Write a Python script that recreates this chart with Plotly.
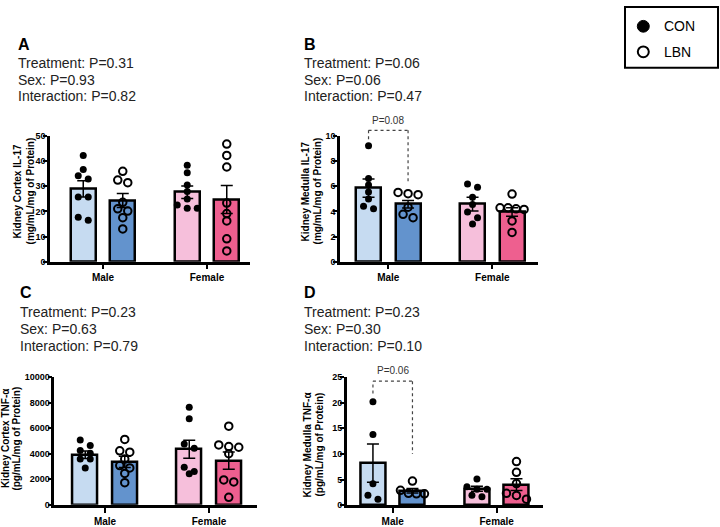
import plotly.graph_objects as go

W, H = 720, 527
FONT = "Arial, Liberation Sans, sans-serif"

# ---------------- data ----------------
categories = ["Male", "Female"]
groups = ["CON", "LBN"]
bar_colors = ["#c6dbf1", "#6393cd", "#f6bfdb", "#ee5f8f"]

# Panel A: Kidney Cortex IL-17
a_male_con = [42.2, 36.6, 34.1, 32.8, 25.7, 25.7, 17.7, 16.5]
a_male_lbn = [35.9, 32.4, 31.4, 23.6, 21.0, 20.1, 17.5, 13.0]
a_fem_con = [38.3, 35.3, 30.5, 27.9, 24.9, 22.5, 21.2, 21.2]
a_fem_lbn = [46.7, 42.2, 37.6, 23.3, 19.1, 16.2, 9.1, 4.3]
a_mean = [28.9, 24.3, 27.6, 24.7]
a_sem = [3.2, 2.8, 2.5, 5.6]

# Panel B: Kidney Medulla IL-17
b_male_con = [9.21, 6.61, 6.10, 5.53, 4.98, 4.41, 4.20]
b_male_lbn = [5.50, 5.40, 5.32, 4.33, 3.76, 3.50]
b_fem_con = [6.18, 5.92, 5.11, 4.54, 3.95, 3.50, 2.99]
b_fem_lbn = [5.37, 4.28, 4.28, 4.20, 4.15, 3.24, 2.33]
b_mean = [5.84, 4.57, 4.57, 3.95]
b_sem = [0.73, 0.30, 0.54, 0.33]

# Panel C: Kidney Cortex TNF-a
c_male_con = [5077, 4638, 4254, 4046, 3585, 3585, 2892]
c_male_lbn = [5123, 4231, 4123, 3585, 3077, 2892, 2462, 1738]
c_fem_con = [7638, 6738, 4769, 4431, 2946, 2615, 2431]
c_fem_lbn = [6154, 4692, 4562, 4508, 4000, 1946, 1792, 585]
c_mean = [3923, 3354, 4354, 3462]
c_sem = [300, 440, 710, 670]

# Panel D: Kidney Medulla TNF-a
d_male_con = [20.2, 13.8, 4.15, 1.92, 1.15]
d_male_lbn = [4.7, 2.9, 2.3, 2.2, 2.2]
d_fem_con = [5.12, 3.58, 3.08, 3.08, 1.92, 1.65]
d_fem_lbn = [8.5, 6.4, 4.2, 2.3, 1.9, 1.15]
d_mean = [8.2, 2.8, 3.2, 4.0]
d_sem = [3.75, 0.45, 0.5, 1.15]

panel_letters = ["A", "B", "C", "D"]
stats_text = [
    ["Treatment: P=0.31", "Sex: P=0.93", "Interaction: P=0.82"],
    ["Treatment: P=0.06", "Sex: P=0.06", "Interaction: P=0.47"],
    ["Treatment: P=0.23", "Sex: P=0.63", "Interaction: P=0.79"],
    ["Treatment: P=0.23", "Sex: P=0.30", "Interaction: P=0.10"],
]
y_titles = [
    ["Kidney Cortex IL-17", "(mg/mL/mg of Protein)"],
    ["Kidney Medulla IL-17", "(mg/mL/mg of Protein)"],
    ["Kidney Cortex TNF-α", "(pg/mL/mg of Protein)"],
    ["Kidney Medulla TNF-α", "(pg/mL/mg of Protein)"],
]
y_max = [50, 10, 10000, 25]
y_dtick = [10, 2, 2000, 5]
bracket_text = [None, "P=0.08", None, "P=0.06"]
# bracket levels in data units: (left bottom, top, right bottom, text)
bracket_levels = [None, (9.73, 10.43, 6.36, 11.2), None, (21.8, 24.2, 10.0, 26.2)]

points = [
    [a_male_con, a_male_lbn, a_fem_con, a_fem_lbn],
    [b_male_con, b_male_lbn, b_fem_con, b_fem_lbn],
    [c_male_con, c_male_lbn, c_fem_con, c_fem_lbn],
    [d_male_con, d_male_lbn, d_fem_con, d_fem_lbn],
]
means = [a_mean, b_mean, c_mean, d_mean]
sems = [a_sem, b_sem, c_sem, d_sem]

# ---------------- layout geometry (pixels) ----------------
PX_PER_CAT = 104.0
geo = [
    dict(x0=50, x1=250, male=103, y0=133.3, y1=261.7, letter=(16, 40), lines=(59.3, 76.7, 92.7), ytit=(17, 30, 190)),
    dict(x0=340, x1=538, male=388.3, y0=133.3, y1=261.7, letter=(302, 40), lines=(59.3, 76.7, 92.7), ytit=(305, 317, 190)),
    dict(x0=54.3, x1=257, male=105, y0=379.3, y1=509.5, letter=(18, 293.3), lines=(312.7, 330, 347.3), ytit=(5.5, 17, 442)),
    dict(x0=346.7, x1=542.7, male=392.7, y0=379.3, y1=509.8, letter=(302, 293.3), lines=(312.7, 330, 347.3), ytit=(307, 319, 448)),
]
OFF = 0.19
BW = 0.24


def swarm(vals, center, ppu_y, ppu_x, thr=6.1, spacing=10.0):
    order = sorted(range(len(vals)), key=lambda i: -vals[i])
    rows = []
    for i in order:
        if rows and (vals[rows[-1][0]] - vals[i]) * ppu_y <= thr:
            rows[-1].append(i)
        else:
            rows.append([i])
    xs = [None] * len(vals)
    for r in rows:
        n = len(r)
        sp = spacing if n <= 3 else spacing * 0.8
        for k, i in enumerate(r):
            xs[i] = center + (k - (n - 1) / 2) * sp / ppu_x
    return xs


fig = go.Figure()
annotations = []
shapes = []
layout_axes = {}

for p in range(4):
    g = geo[p]
    sfx = "" if p == 0 else str(p + 1)
    xa, ya = "x" + sfx, "y" + sfx
    xr0 = 1 - (g["male"] - g["x0"]) / PX_PER_CAT
    xr1 = xr0 + (g["x1"] - g["x0"]) / PX_PER_CAT
    ppu_y = (g["y1"] - g["y0"]) / y_max[p]
    ppu_x = PX_PER_CAT

    centers = []
    for ci in range(len(categories)):
        for gi in range(len(groups)):
            centers.append(ci + 1 + (-OFF if gi == 0 else OFF))

    fig.add_trace(go.Bar(
        x=centers, y=means[p], width=BW, xaxis=xa, yaxis=ya,
        marker=dict(color=bar_colors, line=dict(color="black", width=2.5)),
        error_y=dict(type="data", array=sems[p], visible=True, color="black", thickness=1.5, width=6),
        showlegend=False, hoverinfo="skip",
    ))
    for k in range(4):
        vals = points[p][k]
        xs = swarm(vals, centers[k], ppu_y, ppu_x)
        con = (k % 2 == 0)
        fig.add_trace(go.Scatter(
            x=xs, y=vals, mode="markers", xaxis=xa, yaxis=ya, showlegend=False,
            marker=dict(symbol="circle" if con else "circle-open", size=7 if con else 7.5,
                        color="black", line=dict(color="black", width=0 if con else 2)),
            cliponaxis=False, hoverinfo="skip",
        ))

    layout_axes["xaxis" + sfx] = dict(
        domain=[g["x0"] / W, g["x1"] / W], range=[xr0, xr1], anchor=ya,
        tickvals=[1, 2], ticktext=categories, showline=True, linecolor="black", linewidth=2.5,
        ticks="outside", ticklen=5, tickwidth=2, tickcolor="black", showgrid=False, zeroline=False,
        tickfont=dict(family=FONT, size=10, color="black", weight="bold"),
    )
    layout_axes["yaxis" + sfx] = dict(
        domain=[1 - g["y1"] / H, 1 - g["y0"] / H], range=[0, y_max[p]], anchor=xa,
        tickvals=list(range(0, y_max[p] + 1, y_dtick[p])), tickformat="d",
        showline=True, linecolor="black", linewidth=2.5,
        ticks="outside", ticklen=4, tickwidth=2, tickcolor="black", showgrid=False, zeroline=False,
        ticklabelstandoff=-4,
        tickfont=dict(family=FONT, size=9, color="black", weight="bold"),
    )

    # panel letter + stats text
    lx, ly = g["letter"]
    annotations.append(dict(text="<b>" + panel_letters[p] + "</b>", x=lx / W, y=1 - ly / H, xref="paper", yref="paper",
                            xanchor="left", yanchor="middle", showarrow=False,
                            font=dict(family=FONT, size=16, color="black")))
    for t, yy in zip(stats_text[p], g["lines"]):
        annotations.append(dict(text=t, x=lx / W, y=1 - yy / H, xref="paper", yref="paper",
                                xanchor="left", yanchor="middle", showarrow=False,
                                font=dict(family=FONT, size=14, color="#222")))
    # y title (two rotated lines)
    t1x, t2x, ty = g["ytit"]
    for t, tx in zip(y_titles[p], (t1x, t2x)):
        annotations.append(dict(text="<b>" + t + "</b>", x=tx / W, y=1 - ty / H, xref="paper", yref="paper",
                                xanchor="center", yanchor="middle", showarrow=False, textangle=-90,
                                font=dict(family=FONT, size=10, color="black")))

    # significance bracket
    if bracket_text[p]:
        lb, top, rb, tt = bracket_levels[p]

        def ypap(v, g=g, ppu_y=ppu_y):
            return 1 - (g["y1"] - v * ppu_y) / H

        def xpap(v, g=g, xr0=xr0):
            return (g["x0"] + (v - xr0) * PX_PER_CAT) / W

        xl, xr = xpap(centers[0]), xpap(centers[1])
        ln = dict(color="#444", width=1.2, dash="dot")
        shapes.append(dict(type="line", xref="paper", yref="paper", x0=xl, x1=xl, y0=ypap(lb), y1=ypap(top), line=ln))
        shapes.append(dict(type="line", xref="paper", yref="paper", x0=xl, x1=xr, y0=ypap(top), y1=ypap(top), line=ln))
        shapes.append(dict(type="line", xref="paper", yref="paper", x0=xr, x1=xr, y0=ypap(top), y1=ypap(rb), line=ln))
        annotations.append(dict(text=bracket_text[p], x=(xl + xr) / 2, y=ypap(tt), xref="paper", yref="paper",
                                xanchor="center", yanchor="middle", showarrow=False,
                                font=dict(family=FONT, size=10, color="#333")))

# legend box (manual)
shapes.append(dict(type="rect", xref="paper", yref="paper", x0=625 / W, x1=718 / W, y0=1 - 64 / H, y1=1 - 2 / H,
                   line=dict(color="black", width=2), fillcolor="white"))
r = 6
shapes.append(dict(type="circle", xref="paper", yref="paper", x0=(643.3 - r) / W, x1=(643.3 + r) / W,
                   y0=1 - (21.7 + r) / H, y1=1 - (21.7 - r) / H, fillcolor="black", line=dict(color="black", width=1)))
r2 = 5.5
shapes.append(dict(type="circle", xref="paper", yref="paper", x0=(643.3 - r2) / W, x1=(643.3 + r2) / W,
                   y0=1 - (47.7 + r2) / H, y1=1 - (47.7 - r2) / H, fillcolor="white", line=dict(color="black", width=2)))
for t, yy in zip(groups, [21.7, 47.7]):
    annotations.append(dict(text=t, x=662 / W, y=1 - yy / H, xref="paper", yref="paper", xanchor="left",
                            yanchor="middle", showarrow=False, font=dict(family=FONT, size=14, color="black")))

fig.update_layout(
    width=W, height=H, margin=dict(l=0, r=0, t=0, b=0),
    paper_bgcolor="white", plot_bgcolor="white", showlegend=False,
    annotations=annotations, shapes=shapes, bargap=0,
    font=dict(family=FONT), **layout_axes,
)

fig.write_html("out.html")
